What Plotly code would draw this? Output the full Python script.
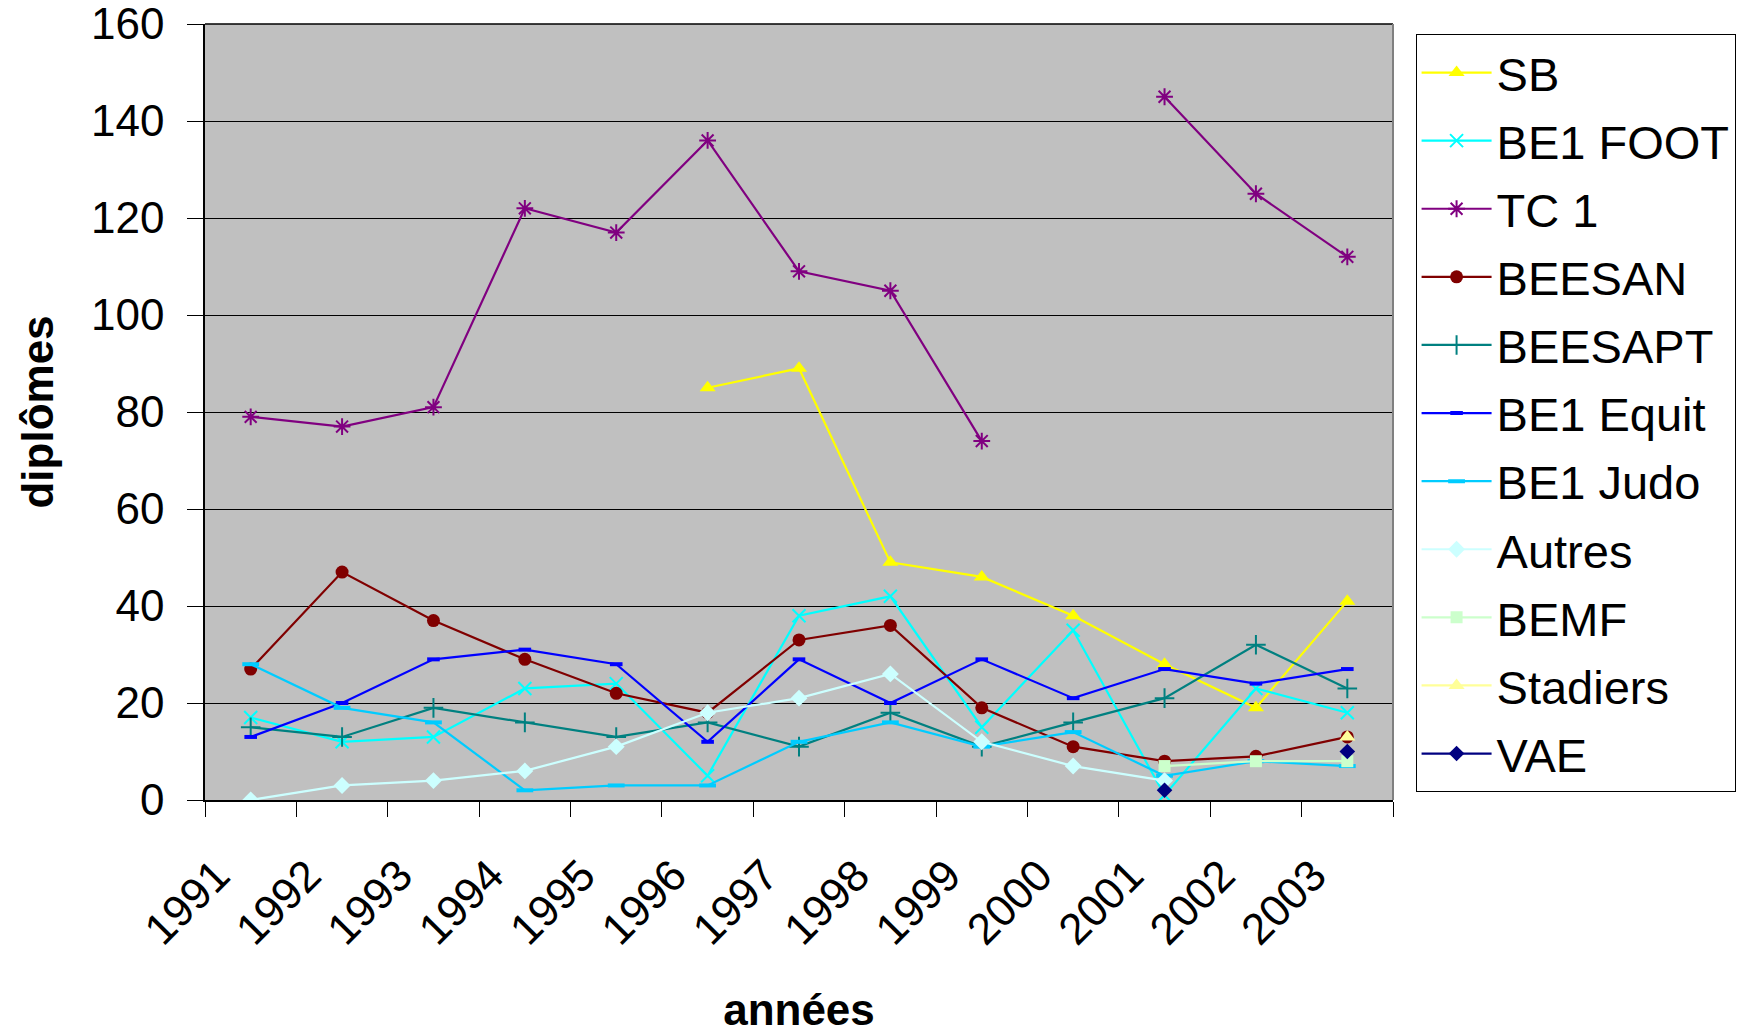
import plotly.graph_objects as go

years = ["1991", "1992", "1993", "1994", "1995", "1996", "1997",
         "1998", "1999", "2000", "2001", "2002", "2003"]

sb = [None, None, None, None, None, 85, 89, 49, 46, 38, 28, 19, 41]
be1_foot = [17, 12, 13, 23, 24, 5, 38, 42, 15, 35, 1, 23, 18]
tc1 = [79, 77, 81, 122, 117, 136, 109, 105, 74, None, 145, 125, 112]
beesan = [27, 47, 37, 29, 22, 18, 33, 36, 19, 11, 8, 9, 13]
beesapt = [15, 13, 19, 16, 13, 16, 11, 18, 11, 16, 21, 32, 23]
be1_equit = [13, 20, 29, 31, 28, 12, 29, 20, 29, 21, 27, 24, 27]
be1_judo = [28, 19, 16, 2, 3, 3, 12, 16, 11, 14, 5, 8, 7]
autres = [0, 3, 4, 6, 11, 18, 21, 26, 12, 7, 4, None, None]
bemf = [None, None, None, None, None, None, None, None, None, None, 7, 8, 8]
stadiers = [None, None, None, None, None, None, None, None, None, None, None, None, 13]
vae = [None, None, None, None, None, None, None, None, None, None, 2, None, 10]

series = [
    ("SB", sb, "#FFFF00", "triangle-up", 14, 0),
    ("BE1 FOOT", be1_foot, "#00FFFF", "x-thin-open", 13, 2),
    ("TC 1", tc1, "#800080", "asterisk-open", 14, 2),
    ("BEESAN", beesan, "#800000", "circle", 13, 0),
    ("BEESAPT", beesapt, "#008080", "cross-thin-open", 14, 2),
    ("BE1 Equit", be1_equit, "#0000FF", "line-ew-open", 9, 4),
    ("BE1 Judo", be1_judo, "#00CCFF", "line-ew-open", 12, 4),
    ("Autres", autres, "#CCFFFF", "diamond", 13, 0),
    ("BEMF", bemf, "#CCFFCC", "square", 12, 0),
    ("Stadiers", stadiers, "#FFFF99", "triangle-up", 14, 0),
    ("VAE", vae, "#000080", "diamond", 12, 0),
]

FONT = "Arial, Liberation Sans, sans-serif"

fig = go.Figure()
for name, vals, color, sym, size, lw in series:
    marker = dict(symbol=sym, size=size, color=color)
    if lw:
        marker["line"] = dict(color=color, width=lw)
    fig.add_trace(go.Scatter(
        x=years, y=vals, name=name, mode="lines+markers",
        line=dict(color=color, width=2.2), marker=marker,
        connectgaps=False, legendgroup=name,
    ))

fig.update_layout(
    width=1745, height=1034,
    margin=dict(l=205, r=352, t=24, b=234, autoexpand=False),
    paper_bgcolor="white", plot_bgcolor="#C0C0C0",
    font=dict(family=FONT, size=44, color="black"),
    showlegend=True,
    legend=dict(
        x=1.019, y=0.9865, xanchor="left", yanchor="top",
        bgcolor="white", bordercolor="black", borderwidth=1,
        font=dict(family=FONT, size=47, color="black"),
        tracegroupgap=4, itemwidth=70,
    ),
    xaxis=dict(
        type="category", range=[-0.5, 12.5], tickson="boundaries",
        showgrid=False, showline=True, linecolor="black", linewidth=1.5,
        ticks="outside", ticklen=15, tickcolor="black", tickwidth=1,
        tickangle=-45, tickfont=dict(size=44), automargin=False,
        ticklabelstandoff=30, ticklabelshift=-34,
        title=dict(text="<b>années</b>", font=dict(size=44), standoff=52),
        zeroline=False,
    ),
    yaxis=dict(
        range=[0, 160], tickvals=[0, 20, 40, 60, 80, 100, 120, 140, 160],
        showgrid=True, gridcolor="black", gridwidth=1,
        showline=True, linecolor="black", linewidth=1.5,
        ticks="outside", ticklen=16, tickcolor="black", tickwidth=1,
        tickfont=dict(size=44), automargin=False, ticklabelstandoff=14,
        ticklabeloverflow="allow",
        title=dict(text="<b>diplômes</b>", font=dict(size=44), standoff=24),
        zeroline=False,
    ),
)

# top border of the plot area (gridline at 160)
fig.add_shape(type="line", xref="paper", yref="paper", x0=0, x1=1, y0=1, y1=1,
              line=dict(color="black", width=1.5), layer="above")
fig.add_shape(type="line", xref="paper", yref="paper", x0=1, x1=1, y0=0, y1=1,
              line=dict(color="#808080", width=2), layer="above")

fig.write_html("out.html", config={"displayModeBar": False},
               post_script="document.body.style.margin='0px';")
